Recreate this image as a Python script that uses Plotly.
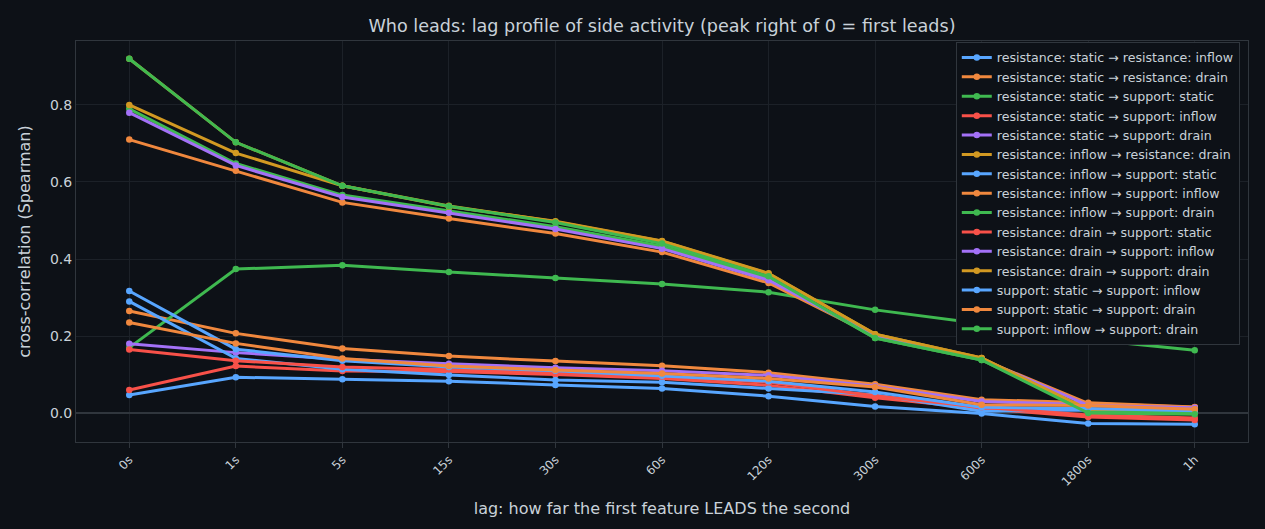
import plotly.graph_objects as go

lags = ["0s", "1s", "5s", "15s", "30s", "60s", "120s", "300s", "600s", "1800s", "1h"]

names = [
    "resistance: static → resistance: inflow",
    "resistance: static → resistance: drain",
    "resistance: static → support: static",
    "resistance: static → support: inflow",
    "resistance: static → support: drain",
    "resistance: inflow → resistance: drain",
    "resistance: inflow → support: static",
    "resistance: inflow → support: inflow",
    "resistance: inflow → support: drain",
    "resistance: drain → support: static",
    "resistance: drain → support: inflow",
    "resistance: drain → support: drain",
    "support: static → support: inflow",
    "support: static → support: drain",
    "support: inflow → support: drain",
]

rs_ri = [0.047, 0.093, 0.088, 0.083, 0.073, 0.064, 0.044, 0.017, -0.001, -0.027, -0.029]
rs_rd = [0.265, 0.207, 0.168, 0.148, 0.135, 0.123, 0.105, 0.075, 0.035, 0.027, 0.016]
rs_ss = [0.170, 0.374, 0.384, 0.366, 0.351, 0.335, 0.314, 0.268, 0.232, 0.191, 0.163]
rs_si = [0.060, 0.122, 0.109, 0.108, 0.100, 0.090, 0.072, 0.040, 0.012, -0.010, -0.018]
rs_sd = [0.180, 0.157, 0.140, 0.128, 0.118, 0.110, 0.098, 0.070, 0.030, 0.022, 0.013]
ri_rd = [0.920, 0.703, 0.590, 0.538, 0.497, 0.446, 0.362, 0.205, 0.143, 0.005, 0.006]
ri_ss = [0.290, 0.142, 0.114, 0.099, 0.086, 0.080, 0.064, 0.048, 0.005, 0.008, 0.004]
ri_si = [0.710, 0.629, 0.547, 0.505, 0.466, 0.418, 0.338, 0.200, 0.140, 0.025, 0.015]
ri_sd = [0.790, 0.648, 0.566, 0.525, 0.484, 0.433, 0.350, 0.195, 0.138, 0.005, 0.002]
rd_ss = [0.165, 0.136, 0.120, 0.113, 0.104, 0.095, 0.080, 0.045, 0.015, -0.005, -0.013]
rd_si = [0.780, 0.643, 0.561, 0.520, 0.478, 0.427, 0.345, 0.200, 0.140, 0.020, 0.014]
rd_sd = [0.800, 0.675, 0.590, 0.536, 0.498, 0.447, 0.363, 0.205, 0.143, 0.010, 0.010]
ss_si = [0.317, 0.166, 0.136, 0.120, 0.110, 0.097, 0.083, 0.055, 0.015, 0.012, 0.006]
ss_sd = [0.235, 0.181, 0.142, 0.122, 0.112, 0.103, 0.090, 0.068, 0.022, 0.020, 0.010]
si_sd = [0.920, 0.703, 0.590, 0.537, 0.495, 0.440, 0.355, 0.195, 0.138, 0.000, -0.003]

series = [rs_ri, rs_rd, rs_ss, rs_si, rs_sd, ri_rd, ri_ss, ri_si, ri_sd,
          rd_ss, rd_si, rd_sd, ss_si, ss_sd, si_sd]

palette = ["#58a6ff", "#f0883e", "#3fb950", "#f85149", "#a371f7", "#d29922"]

fig = go.Figure()
for i, (nm, vals) in enumerate(zip(names, series)):
    c = palette[i % len(palette)]
    fig.add_trace(go.Scatter(
        x=lags, y=vals, name=nm, mode="lines+markers",
        line=dict(color=c, width=3), marker=dict(color=c, size=6.5),
    ))

bg = "#0d1117"
grid = "#1c2128"
txt = "#c9d1d9"
fig.update_layout(
    width=1265, height=529,
    paper_bgcolor=bg, plot_bgcolor=bg,
    font=dict(family="DejaVu Sans", color=txt, size=12),
    title=dict(text="Who leads: lag profile of side activity (peak right of 0 = first leads)",
               xref="paper", x=0.5, xanchor="center", y=0.951, yanchor="middle",
               font=dict(size=17.6)),
    margin=dict(l=76, r=17, t=41, b=87),
    showlegend=True,
    legend=dict(x=0.993, y=0.998, xanchor="right", yanchor="top",
                bgcolor=bg, bordercolor="#30363d", borderwidth=1,
                font=dict(size=12.6, color=txt), tracegroupgap=0),
    hovermode="closest",
)
fig.update_xaxes(
    type="category", range=[-0.5, 10.5], tickangle=-45, tickfont=dict(size=12),
    title=dict(text="lag: how far the first feature LEADS the second", font=dict(size=16)),
    showgrid=True, gridcolor=grid, showline=True, linecolor="#30363d", mirror=True,
    ticks="outside", tickcolor="#30363d", ticklen=5, zeroline=False,
)
fig.update_yaxes(
    range=[-0.075, 0.966], tickformat=".1f", dtick=0.2, tickfont=dict(size=14),
    title=dict(text="cross-correlation (Spearman)", font=dict(size=16)),
    showgrid=True, gridcolor=grid, showline=True, linecolor="#30363d", mirror=True,
    zeroline=True, zerolinecolor="#30363d", zerolinewidth=2,
)
fig.write_html("out.html")
